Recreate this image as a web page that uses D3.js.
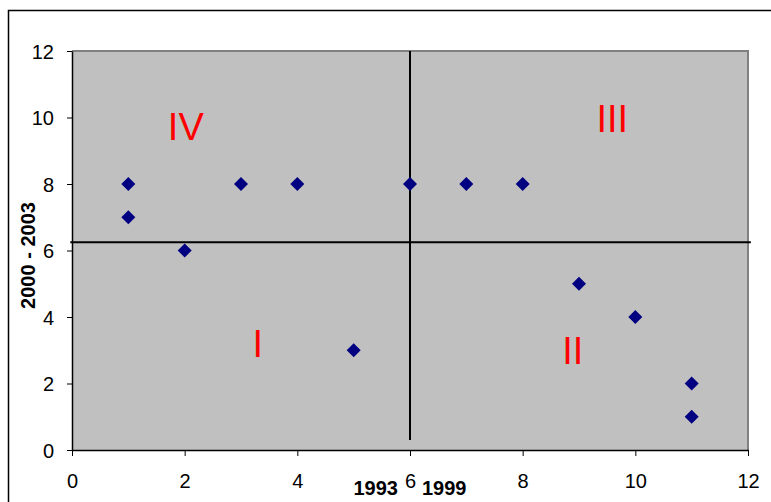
<!DOCTYPE html>
<html>

<head>
    <meta charset="utf-8">
    <title>Quadrant scatter</title>
    <style>
        body { margin: 0; background: #fff; }
        text { font-family: "Liberation Sans", Arial, sans-serif; }
    </style>
</head>

<body>
    <script src="https://d3js.org/d3.v7.min.js"></script>
    <script>
    // data
    const xVals = [1, 1, 2, 3, 4, 5, 6, 7, 8, 9, 10, 11, 11];
    const yVals = [8, 7, 6, 8, 8, 3, 8, 8, 8, 5, 4, 2, 1];
    const tickVals = [0, 2, 4, 6, 8, 10, 12];
    const quadNames = ["IV", "III", "I", "II"];
    const quadX = [2.02, 9.59, 3.3, 8.89];
    const quadY = [9.32, 9.56, 2.8, 2.59];
    // dividing lines: vertical at x = 6, horizontal at y = 6.25
    const vLine = [[6, 0.3], [6, 12]];
    const hLine = [[-0.03, 6.25], [12.05, 6.25]];

    const W = 771, H = 502;
    const plotL = 72, plotR = 748, plotT = 51, plotB = 450;

    const svg = d3.select("body").append("svg")
        .attr("width", W)
        .attr("height", H);

    // outer chart border (only left and top fall inside the picture)
    svg.append("path")
        .attr("d", `M8.5,${H + 5}V10.5H${W + 5}`)
        .attr("fill", "none")
        .attr("stroke", "#000")
        .attr("stroke-width", 1.5);

    const x = d3.scaleLinear().domain([0, 12]).range([plotL, plotR]);
    const y = d3.scaleLinear().domain([0, 12]).range([plotB, plotT]);

    // plot area
    svg.append("rect")
        .attr("x", plotL).attr("y", plotT)
        .attr("width", plotR - plotL).attr("height", plotB - plotT)
        .attr("fill", "#c0c0c0");
    svg.append("path")
        .attr("d", `M${plotL},${plotT}H${plotR}V${plotB}`)
        .attr("fill", "none")
        .attr("stroke", "#808080")
        .attr("stroke-width", 2);

    // axes
    const xAxis = svg.append("g")
        .attr("transform", `translate(0,${plotB})`)
        .call(d3.axisBottom(x).tickValues(tickVals).tickSize(6).tickPadding(18).tickSizeOuter(0));
    const yAxis = svg.append("g")
        .attr("transform", `translate(${plotL},0)`)
        .call(d3.axisLeft(y).tickValues(tickVals).tickSize(5).tickPadding(13).tickSizeOuter(0));
    [xAxis, yAxis].forEach(g => {
        g.select(".domain").attr("stroke", "#000").attr("stroke-width", 1.5);
        g.selectAll(".tick line").attr("stroke", "#000");
        g.selectAll(".tick text")
            .attr("fill", "#000")
            .style("font-size", "20px")
            .style("font-family", "'Liberation Sans', Arial, sans-serif");
    });
    yAxis.selectAll(".tick text").attr("dy", "0.36em");

    // dividing lines
    const line = d3.line().x(d => x(d[0])).y(d => y(d[1]));
    svg.append("path").attr("d", line(vLine))
        .attr("stroke", "#000").attr("stroke-width", 2).attr("fill", "none");
    svg.append("path").attr("d", line(hLine))
        .attr("stroke", "#000").attr("stroke-width", 2).attr("fill", "none");

    // quadrant names
    svg.selectAll(".quad")
        .data(quadNames)
        .enter()
        .append("text")
        .attr("class", "quad")
        .attr("x", (d, i) => x(quadX[i]))
        .attr("y", (d, i) => y(quadY[i]))
        .attr("text-anchor", "middle")
        .attr("fill", "#ff0000")
        .style("font-size", "38px")
        .text(d => d);

    // points
    const diamond = d3.symbol().type(d3.symbolDiamond2).size(125);
    svg.selectAll(".pt")
        .data(xVals)
        .enter()
        .append("path")
        .attr("class", "pt")
        .attr("d", diamond)
        .attr("transform", (d, i) => `translate(${x(d)},${y(yVals[i])})`)
        .attr("fill", "#000080");

    // axis titles
    svg.append("text")
        .attr("x", x(6) - 12).attr("y", 495)
        .attr("text-anchor", "end")
        .style("font-size", "20px").style("font-weight", "bold")
        .text("1993");
    svg.append("text")
        .attr("x", x(6) + 12).attr("y", 495)
        .attr("text-anchor", "start")
        .style("font-size", "20px").style("font-weight", "bold")
        .text("1999");
    svg.append("text")
        .attr("transform", `translate(35,${(plotT + plotB) / 2 + 5}) rotate(-90)`)
        .attr("text-anchor", "middle")
        .style("font-size", "20px").style("font-weight", "bold")
        .text("2000 - 2003");
    </script>
</body>

</html>
